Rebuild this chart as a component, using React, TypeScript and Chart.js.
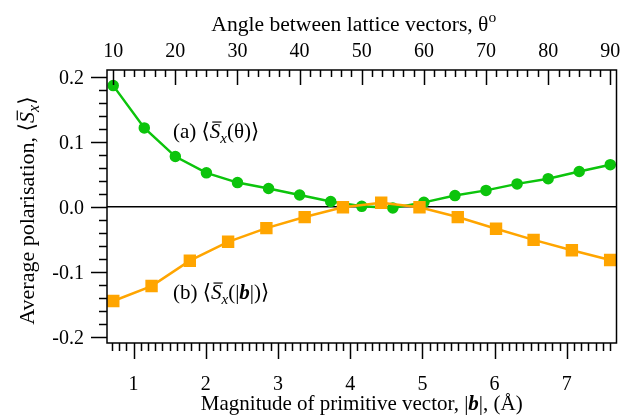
import React, { useEffect, useRef } from 'react';
import { Chart, registerables } from 'chart.js';

Chart.register(...registerables);

// ---- data ----
const angleDeg = [10, 15, 20, 25, 30, 35, 40, 45, 50, 55, 60, 65, 70, 75, 80, 85, 90];
const sxTheta = [0.186, 0.121, 0.077, 0.052, 0.037, 0.028, 0.018, 0.008, 0.0005, -0.002, 0.0066, 0.017, 0.025, 0.035, 0.043, 0.054, 0.0645];
const magB = [0.72, 1.25, 1.78, 2.31, 2.84, 3.37, 3.9, 4.43, 4.96, 5.49, 6.02, 6.54, 7.07, 7.6];
const sxB = [-0.145, -0.122, -0.083, -0.054, -0.033, -0.016, -0.001, 0.006, -0.001, -0.016, -0.034, -0.051, -0.067, -0.082];
const topTicks = [10, 20, 30, 40, 50, 60, 70, 80, 90];
const bottomTicks = [1, 2, 3, 4, 5, 6, 7];
const yTicks = [-0.2, -0.1, 0, 0.1, 0.2];
const yTickLabels = ['-0.2', '-0.1', '0.0', '0.1', '0.2'];

const GREEN = '#0cc40c';
const ORANGE = '#ffa500';
const FAM = '"Liberation Serif", "DejaVu Serif", serif';
const TICK_SIZE = 20;
const TITLE_SIZE = 21;

type Seg = { t: string; i?: boolean; b?: boolean; sub?: boolean; sup?: boolean; over?: boolean };

function segFont(s: Seg, size: number) {
  const sz = s.sub || s.sup ? size * 0.72 : size;
  return `${s.i ? 'italic ' : ''}${s.b ? 'bold ' : ''}${sz}px ${FAM}`;
}
function measureRich(ctx: CanvasRenderingContext2D, segs: Seg[], size: number) {
  let w = 0;
  for (const s of segs) {
    ctx.font = segFont(s, size);
    w += ctx.measureText(s.t).width;
  }
  return w;
}
function drawRich(ctx: CanvasRenderingContext2D, segs: Seg[], x: number, y: number, size: number, align: 'left' | 'center') {
  const w = measureRich(ctx, segs, size);
  let cx = align === 'center' ? x - w / 2 : x;
  ctx.textAlign = 'left';
  ctx.textBaseline = 'alphabetic';
  for (const s of segs) {
    ctx.font = segFont(s, size);
    const dy = s.sub ? size * 0.22 : s.sup ? -size * 0.42 : 0;
    ctx.fillText(s.t, cx, y + dy);
    const mw = ctx.measureText(s.t).width;
    if (s.over) {
      ctx.save();
      ctx.lineWidth = 1.2;
      ctx.beginPath();
      const oy = y - size * 0.76;
      ctx.moveTo(cx + size * 0.12, oy);
      ctx.lineTo(cx + mw + size * 0.06, oy);
      ctx.stroke();
      ctx.restore();
    }
    cx += mw;
  }
}

const sxSegs = (inner: Seg[]): Seg[] => [
  { t: '⟨' },
  { t: 'S', i: true, over: true },
  { t: 'x', i: true, sub: true },
  ...inner,
  { t: '⟩' },
];

const labelA: Seg[] = [{ t: '(a) ' }, ...sxSegs([{ t: '(θ)' }])];
const labelB: Seg[] = [{ t: '(b) ' }, ...sxSegs([{ t: '(|' }, { t: 'b', b: true, i: true }, { t: '|)' }])];
const yTitle: Seg[] = [{ t: 'Average polarisation, ' }, ...sxSegs([])];
const topTitle: Seg[] = [{ t: 'Angle between lattice vectors, θ' }, { t: 'o', sup: true }];
const bottomTitle: Seg[] = [{ t: 'Magnitude of primitive vector, |' }, { t: 'b', b: true, i: true }, { t: '|, (Å)' }];

function range(min: number, max: number, step: number) {
  const out: number[] = [];
  const n = Math.round((max - min) / step);
  for (let k = 0; k <= n; k++) out.push(min + k * step);
  return out;
}

const decorPlugin = {
  id: 'decor',
  beforeDatasetsDraw(chart: any) {
    const { ctx, chartArea: a, scales } = chart;
    const y0 = scales.y.getPixelForValue(0);
    ctx.save();
    ctx.strokeStyle = '#000';
    ctx.lineWidth = 1.5;
    ctx.beginPath();
    ctx.moveTo(a.left, y0);
    ctx.lineTo(a.right, y0);
    ctx.stroke();
    ctx.restore();
  },
  afterDatasetsDraw(chart: any) {
    const { ctx, chartArea: a, scales } = chart;
    const xb = scales.xBottom, xt = scales.xTop, y = scales.y;
    ctx.save();
    ctx.strokeStyle = '#000';
    ctx.fillStyle = '#000';
    ctx.lineWidth = 1.5;
    ctx.strokeRect(a.left, a.top, a.right - a.left, a.bottom - a.top);

    const line = (x1: number, y1: number, x2: number, y2: number) => {
      ctx.beginPath();
      ctx.moveTo(x1, y1);
      ctx.lineTo(x2, y2);
      ctx.stroke();
    };
    // left ticks
    for (const v of range(-0.2, 0.2, 0.02)) {
      const p = Math.round(y.getPixelForValue(v)) + 0.5;
      const major = Math.abs(Math.round(v * 10) - v * 10) < 1e-6;
      line(a.left - (major ? 16 : 8), p, a.left, p);
    }
    // bottom ticks
    for (const v of range(0.7, 7.6, 0.1)) {
      const p = Math.round(xb.getPixelForValue(v)) + 0.5;
      const major = Math.abs(Math.round(v) - v) < 1e-6;
      line(p, a.bottom, p, a.bottom + (major ? 16 : 8));
    }
    // top ticks (inward)
    for (const v of range(10, 90, 10 / 6)) {
      const p = Math.round(xt.getPixelForValue(v)) + 0.5;
      const major = Math.abs(Math.round(v / 10) * 10 - v) < 1e-6;
      line(p, a.top, p, a.top + (major ? 15 : 7));
    }
    // tick labels
    ctx.font = `${TICK_SIZE}px ${FAM}`;
    ctx.textBaseline = 'alphabetic';
    ctx.textAlign = 'right';
    yTicks.forEach((v, k) => {
      ctx.fillText(yTickLabels[k], a.left - 23, y.getPixelForValue(v) + 7);
    });
    ctx.textAlign = 'center';
    bottomTicks.forEach((v) => {
      ctx.fillText(String(v), xb.getPixelForValue(v), a.bottom + 47);
    });
    topTicks.forEach((v) => {
      ctx.fillText(String(v), xt.getPixelForValue(v), a.top - 13);
    });
    // titles
    drawRich(ctx, topTitle, (a.left + a.right) / 2 - 8, a.top - 39, 21.6, 'center');
    drawRich(ctx, bottomTitle, (a.left + a.right) / 2, a.bottom + 67, TITLE_SIZE, 'center');
    ctx.save();
    ctx.translate(a.left - 73, (a.top + a.bottom) / 2 + 4);
    ctx.rotate(-Math.PI / 2);
    drawRich(ctx, yTitle, 0, 0, 22, 'center');
    ctx.restore();
    // series annotations
    drawRich(ctx, labelA, a.left + 66, a.top + 68, TITLE_SIZE, 'left');
    drawRich(ctx, labelB, a.left + 66, a.top + 229, TITLE_SIZE, 'left');
    ctx.restore();
  },
};

export default function App() {
  const ref = useRef<HTMLCanvasElement | null>(null);
  useEffect(() => {
    if (!ref.current) return;
    const chart = new Chart(ref.current, {
      type: 'line',
      data: {
        datasets: [
          {
            label: 'Sx(theta)',
            data: angleDeg.map((x, i) => ({ x, y: sxTheta[i] })),
            xAxisID: 'xTop',
            yAxisID: 'y',
            borderColor: GREEN,
            backgroundColor: GREEN,
            pointBackgroundColor: GREEN,
            pointBorderColor: GREEN,
            pointStyle: 'circle',
            pointRadius: 4.5,
            borderWidth: 2.5,
            order: 1,
          },
          {
            label: 'Sx(|b|)',
            data: magB.map((x, i) => ({ x, y: sxB[i] })),
            xAxisID: 'xBottom',
            yAxisID: 'y',
            borderColor: ORANGE,
            backgroundColor: ORANGE,
            pointBackgroundColor: ORANGE,
            pointBorderColor: ORANGE,
            pointStyle: 'rect',
            pointRadius: 7,
            borderWidth: 2.5,
            order: 0,
          },
        ],
      },
      options: {
        responsive: false,
        animation: false,
        devicePixelRatio: 1,
        layout: { padding: { left: 107, right: 14.5, top: 70, bottom: 75 } },
        plugins: { legend: { display: false }, tooltip: { enabled: false } },
        scales: {
          xBottom: { type: 'linear', position: 'bottom', min: 0.633, max: 7.688, display: false },
          xTop: { type: 'linear', position: 'top', min: 9, max: 91, display: false },
          y: { type: 'linear', min: -0.2095, max: 0.21, display: false },
        },
      },
      plugins: [decorPlugin],
    } as any);
    return () => chart.destroy();
  }, []);
  return (
    <div style={{ position: 'fixed', left: 0, top: 0, width: 631, height: 418, background: '#fff' }}>
      <canvas ref={ref} width={631} height={418} style={{ display: 'block' }} />
    </div>
  );
}
